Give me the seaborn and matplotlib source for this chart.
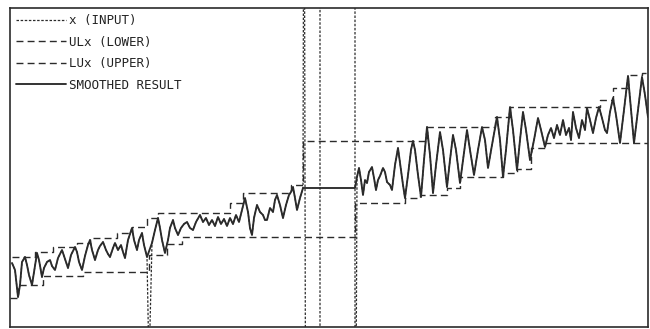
import matplotlib
matplotlib.use("Agg")
import matplotlib.pyplot as plt
import seaborn as sns

# --- dados (t = amostra, v = amplitude) ---
left_t = [2, 5, 8, 10, 12, 15, 17, 19, 22, 24, 27, 29, 32, 34, 37, 40, 42, 45, 48, 52,
          54, 56, 58, 61, 65, 67, 69, 72, 75, 78, 80, 82, 85, 88, 90, 93, 96, 98, 100, 103,
          105, 108, 111, 113, 115, 118, 120, 122, 124, 127, 129, 132, 134, 137,
          142, 145, 148, 150, 152, 155, 158, 160, 163, 165, 168, 171, 174, 177, 180, 183,
          186, 190, 193, 196, 199, 202, 205, 208, 211, 214, 217, 220, 223, 226, 229, 232,
          235, 238, 240, 242, 244, 247, 250, 253, 255, 257, 260, 263, 265, 267, 270, 273,
          276, 279, 281, 283, 285, 287, 290, 293]
left_v = [64, 57, 30, 42, 65, 70, 62, 52, 42, 55, 74, 67, 50, 59, 65, 67, 61, 57, 69, 77,
          71, 65, 59, 72, 80, 75, 65, 57, 71, 82, 87, 77, 67, 77, 81, 85, 77, 73, 70, 79,
          84, 77, 82, 75, 69, 87, 93, 99, 87, 77, 87, 94, 82, 70,
          84, 97, 109, 99, 87, 74, 87, 99, 107, 99, 92, 99, 103, 105, 99, 97,
          105, 112, 105, 109, 102, 107, 101, 110, 103, 108, 101, 109, 103, 112, 105, 117,
          129, 115, 99, 92, 109, 122, 115, 112, 107, 107, 119, 115, 127, 132, 122, 109,
          122, 132, 135, 140, 129, 117, 129, 139]

# impulso para baixo no sinal de entrada
impulse_t = 139
impulse_v = -40

# trecho fora da escala (grande perturbacao no meio)
gap_t = [294, 296, 310, 310, 345, 345]
gap_v = [600, -300, -300, 600, 600, -300]
plateau_v = 139

right_t = [347, 349, 351, 353, 355, 357, 359, 362, 364, 366, 368, 370, 373, 375, 377, 380,
           382, 385, 388, 391, 393, 395, 398, 401, 403, 405, 408, 411, 414, 417, 420, 423,
           426, 430, 433, 437, 440, 443, 446, 450, 453, 457, 460, 464, 468, 472, 475, 478,
           482, 487, 490, 493, 496, 500, 503, 507, 510, 513, 516, 520, 524, 528, 531, 535,
           538, 541, 544, 547, 550, 553, 556, 559, 561, 563, 566, 569, 572, 575, 577, 580,
           583, 586, 589, 592, 595, 597, 600, 603, 606, 610, 614, 618, 621, 624, 628, 632,
           635, 638]
right_v = [150, 159, 147, 132, 147, 144, 155, 160, 149, 137, 147, 151, 159, 155, 145, 142,
           137, 162, 179, 157, 142, 129, 152, 177, 186, 177, 152, 130, 167, 200, 172, 134,
           162, 195, 177, 140, 167, 192, 177, 144, 167, 197, 177, 152, 177, 200, 187, 159,
           182, 210, 187, 150, 177, 220, 197, 157, 187, 215, 197, 167, 187, 209, 197, 180,
           192, 199, 189, 202, 192, 207, 192, 199, 187, 215, 199, 189, 207, 197, 219, 207,
           194, 209, 220, 209, 197, 194, 215, 229, 212, 184, 217, 251, 217, 184, 217, 250,
           232, 210]

# ULx (envelope inferior) e LUx (envelope superior): inicio de cada degrau e nivel
lower_t = [0, 8, 33, 73, 139, 157, 172, 345, 395, 410, 437, 450, 493, 507, 521, 535, 638]
lower_v = [29, 42, 51, 55, 72, 83, 90, 124, 129, 132, 139, 150, 154, 158, 179, 184, 184]
upper_t = [2, 25, 43, 67, 80, 107, 122, 137, 148, 220, 233, 281, 293, 417, 485, 500,
           590, 603, 618, 632, 638]
upper_v = [70, 75, 80, 84, 89, 94, 100, 109, 114, 124, 134, 142, 186, 200, 210, 220,
           227, 239, 252, 254, 254]

labels = ['x (INPUT)', 'ULx (LOWER)', 'LUx (UPPER)', 'SMOOTHED RESULT']

# montar as series
n_pre = left_t.index(137) + 1
input_t = left_t[:n_pre] + [impulse_t] + left_t[n_pre:] + gap_t + right_t
input_v = left_v[:n_pre] + [impulse_v] + left_v[n_pre:] + gap_v + right_v
smooth_t = left_t + [345] + right_t
smooth_v = left_v + [plateau_v] + right_v

sns.set_style("white")
plt.rcParams['font.family'] = ['DejaVu Sans Mono', 'DejaVu Sans']

fig = plt.figure(figsize=(6.5, 3.29), dpi=100)
ax = fig.add_axes([10 / 650, 2 / 329, 638 / 650, 319 / 329])

ink = '#2b2b2b'
sns.lineplot(x=input_t, y=input_v, estimator=None, sort=False, ax=ax,
             color=ink, lw=0.9, linestyle=(0, (2, 1.3)), label=labels[0])
sns.lineplot(x=lower_t, y=lower_v, estimator=None, sort=False, ax=ax,
             color=ink, lw=1.0, linestyle=(0, (5, 3)), drawstyle='steps-post', label=labels[1])
sns.lineplot(x=upper_t, y=upper_v, estimator=None, sort=False, ax=ax,
             color=ink, lw=1.0, linestyle=(0, (5, 3)), drawstyle='steps-post', label=labels[2])
sns.lineplot(x=smooth_t, y=smooth_v, estimator=None, sort=False, ax=ax,
             color=ink, lw=1.35, label=labels[3])

ax.set_xlim(0, 638)
ax.set_ylim(0, 319)
ax.set_xticks([])
ax.set_yticks([])
ax.set_xlabel('')
ax.set_ylabel('')
for s in ax.spines.values():
    s.set_color(ink)
    s.set_linewidth(1.2)

leg = ax.legend(loc='upper left', frameon=False, fontsize=9, handlelength=4.0,
                handletextpad=0.25, labelspacing=0.68, borderaxespad=0.1, borderpad=0.4)
for t in leg.get_texts():
    t.set_color('#222222')

fig.savefig('out.png', dpi=100)
